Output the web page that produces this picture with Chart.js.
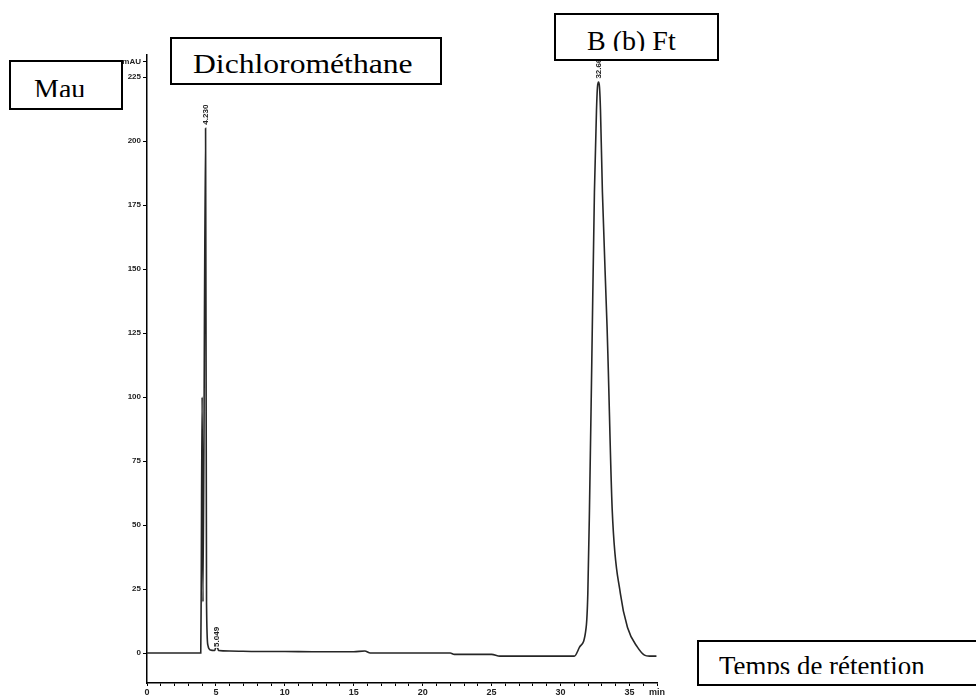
<!DOCTYPE html>
<html>
<head>
<meta charset="utf-8">
<script src="https://cdn.jsdelivr.net/npm/chart.js@4/dist/chart.umd.min.js"></script>
<style>
  html, body { margin:0; padding:0; background:#fff; overflow:hidden; }
  #wrap { position:relative; width:976px; height:700px; }
  canvas { position:absolute; left:0; top:0; }
  .box { position:absolute; border:2px solid #000; background:#fff; box-sizing:border-box; overflow:hidden; }
  .clip { position:absolute; left:0; top:0; width:100%; overflow:hidden; }
  .txt { position:absolute; white-space:nowrap; font-family:"Liberation Serif","Times New Roman",serif; font-size:28px; line-height:1; color:#000; transform-origin:left top; }
</style>
</head>
<body>
<div id="wrap">
  <canvas id="c" width="976" height="700"></canvas>
</div>
<script>
// ---- data ----
const times  = [0, 2, 3.90, 3.93, 4.00, 4.06, 4.25, 4.32, 4.42, 4.60, 4.90, 5.05, 5.20, 6, 8, 10, 12, 15, 15.8, 16.2, 18, 20, 22, 22.3, 25, 25.6, 28, 31.00, 31.38, 31.86, 31.98, 32.10, 32.27, 32.46, 32.61, 32.68, 32.76, 32.83, 32.90, 33.04, 33.38, 33.45, 33.75, 34.35, 34.86, 35.58, 36.09, 36.45, 36.96];
const signal = [0, 0, 0, 22, 100, 20, 205, 19, 3, 1.2, 1, 3, 1, 0.8, 0.6, 0.6, 0.5, 0.5, 0.8, 0, 0, 0, 0, -0.5, -0.5, -1.2, -1.2, -1.2, 2.3, 10, 23, 56, 114, 180, 212, 221, 223, 221, 212, 180, 127, 114, 56, 23, 10, 2.3, -0.8, -1.2, -1.2];

const yTickValues = [0, 25, 50, 75, 100, 125, 150, 175, 200, 225, 231];
const yUnitLabel = "mAU";
const xTickValues = [0,1,2,3,4,5,6,7,8,9,10,11,12,13,14,15,16,17,18,19,20,21,22,23,24,25,26,27,28,29,30,31,32,33,34,35,36,37];
const xUnitLabel = "min";

const peakLabelTexts  = ["4.230", "5.049", "32.66"];
const peakLabelTimes  = [4.30, 5.05, 32.76];
const peakLabelValues = [206, 2, 224];

const boxTexts = ["Mau", "Dichlorométhane", "B (b) Ft", "Temps de rétention"];

// ---- annotation boxes (HTML text) ----
const boxLayout = [
  {l:9,   t:60,  w:114, h:50, tx:34,  cap:80,  clip:96.5},
  {l:170, t:37,  w:272, h:48, tx:193, cap:55,  clip:84, sx:1.13},
  {l:554, t:13,  w:165, h:48, tx:587, cap:32,  clip:50.5},
  {l:697, t:640, w:300, h:46, tx:719, cap:657, clip:674, sx:0.96}
];
const wrap = document.getElementById('wrap');
boxTexts.forEach((s, i) => {
  const b = boxLayout[i];
  const box = document.createElement('div');
  box.className = 'box';
  Object.assign(box.style, {left:b.l+'px', top:b.t+'px', width:b.w+'px', height:b.h+'px'});
  const clip = document.createElement('div');
  clip.className = 'clip';
  clip.style.height = (b.clip - b.t - 2) + 'px';
  const sp = document.createElement('div');
  sp.className = 'txt';
  sp.textContent = s;
  sp.style.left = (b.tx - b.l - 2) + 'px';
  sp.style.top = (b.cap - 4.9 - b.t - 2) + 'px';
  if (b.sx) sp.style.transform = 'scaleX(' + b.sx + ')';
  clip.appendChild(sp);
  box.appendChild(clip);
  wrap.appendChild(box);
});

// ---- peak retention-time labels ----
const peakLabelPlugin = {
  id: 'peakLabels',
  afterDatasetsDraw(chart) {
    const ctx = chart.ctx, xs = chart.scales.x, ys = chart.scales.y;
    ctx.save();
    ctx.font = 'bold 8px "Liberation Sans", Arial, sans-serif';
    ctx.textBaseline = 'middle';
    ctx.textAlign = 'left';
    peakLabelTexts.forEach((t, i) => {
      const px = xs.getPixelForValue(peakLabelTimes[i]);
      const py = ys.getPixelForValue(peakLabelValues[i]);
      ctx.save();
      ctx.translate(px, py);
      ctx.rotate(-Math.PI / 2);
      const w = ctx.measureText(t).width;
      ctx.fillStyle = '#fff';
      ctx.fillRect(0, -4.5, w + 2, 9);
      ctx.fillStyle = '#222';
      ctx.fillText(t, 1, 0);
      ctx.restore();
    });
    ctx.restore();
  }
};

new Chart(document.getElementById('c'), {
  type: 'scatter',
  data: {
    datasets: [{
      data: times.map((t, i) => ({x: t, y: signal[i]})),
      showLine: true,
      borderColor: '#262626',
      borderWidth: 1.6,
      pointRadius: 0,
      cubicInterpolationMode: 'monotone',
      fill: false
    }]
  },
  options: {
    responsive: false,
    animation: false,
    layout: { padding: { top: 55, right: 319, left: 0, bottom: 0 } },
    plugins: { legend: { display: false }, tooltip: { enabled: false } },
    scales: {
      x: {
        type: 'linear',
        min: 0, max: 37,
        afterBuildTicks: (axis) => { axis.ticks = xTickValues.map(v => ({value: v})); },
        afterFit: (scale) => { scale.height = 17; },
        grid: { drawOnChartArea: false, drawTicks: true, tickLength: 3, color: '#000', lineWidth: 1 },
        border: { display: true, color: '#000', width: 1.5 },
        ticks: {
          autoSkip: false, maxRotation: 0, padding: 1,
          color: '#222',
          font: { family: '"Liberation Sans", Arial, sans-serif', size: 9, weight: 'bold' },
          callback: (v) => (v === 37 ? xUnitLabel : (v % 5 === 0 ? String(v) : ''))
        }
      },
      y: {
        type: 'linear',
        min: -11.7, max: 233.6,
        afterBuildTicks: (axis) => { axis.ticks = yTickValues.map(v => ({value: v})); },
        afterFit: (scale) => { scale.width = 147; },
        grid: { drawOnChartArea: false, drawTicks: true, tickLength: 4, color: '#000', lineWidth: 1 },
        border: { display: true, color: '#000', width: 1.5 },
        ticks: {
          autoSkip: false, padding: 2,
          color: '#222',
          font: { family: '"Liberation Sans", Arial, sans-serif', size: 8, weight: 'bold' },
          callback: (v) => (v === 231 ? yUnitLabel : String(v))
        }
      }
    }
  },
  plugins: [peakLabelPlugin]
});
</script>
</body>
</html>
